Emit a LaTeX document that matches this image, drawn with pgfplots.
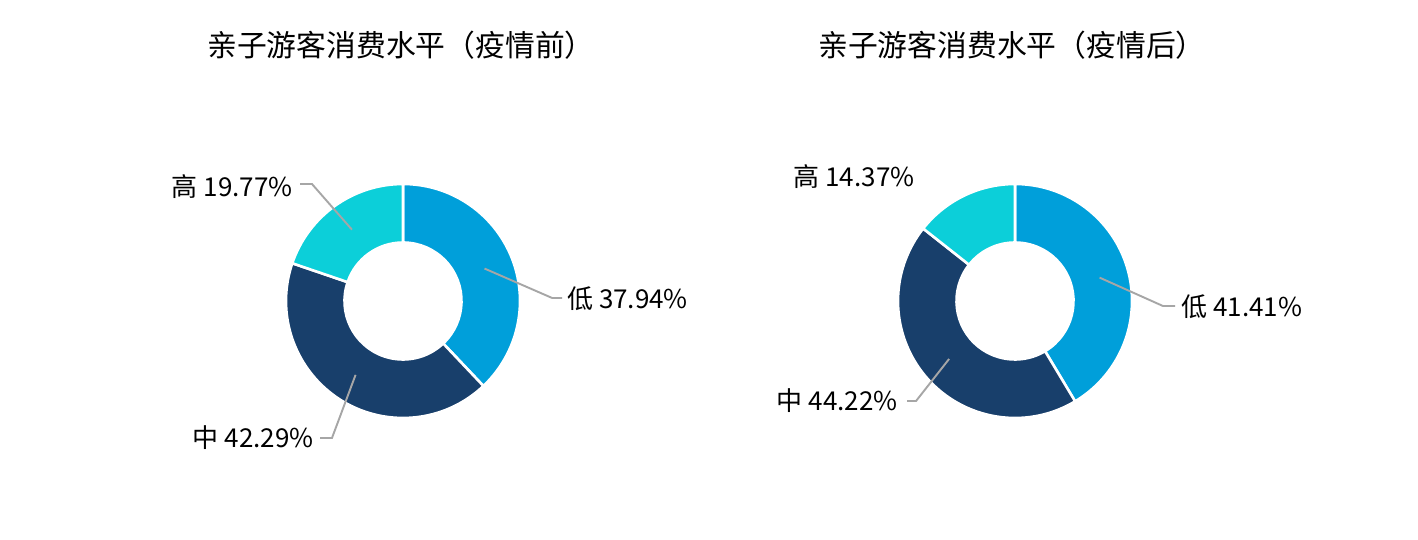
\documentclass[border=0pt]{standalone}
\usepackage{fontspec}
\setmainfont{Noto Sans CJK SC}
\usepackage{pgfplots}
\usepackage{pgfplotstable}
\pgfplotsset{compat=1.18}

\definecolor{cLow}{HTML}{009FDA}
\definecolor{cMid}{HTML}{183F6B}
\definecolor{cHigh}{HTML}{0CCFD9}
\definecolor{leadgray}{HTML}{A6A6A6}

% share of each level, before and after the epidemic
\pgfplotstableread{
level value
low  37.94
mid  42.29
high 19.77
}\before
\pgfplotstableread{
level value
low  41.41
mid  44.22
high 14.37
}\after

% one ring segment from angle #1 to angle #2 (clockwise), colour #3
\newcommand\ringslice[3]{%
  \fill[#3, draw=white, line width=1.3bp]
    (axis cs:{cos(#1)},{sin(#1)}) arc[start angle=#1, end angle=#2, radius=58.5bp]
    -- (axis cs:{0.5*cos(#2)},{0.5*sin(#2)})
    arc[start angle=#2, end angle=#1, radius=29.25bp] -- cycle;
}

\pgfplotsset{
  donut/.style={
    hide axis, clip=false,
    x=58.5bp, y=58.5bp,
    xmin=-1, xmax=1, ymin=-1, ymax=1,
    anchor=center,
  },
}
\tikzset{
  lbl/.style={font=\fontsize{13bp}{15bp}\selectfont, inner sep=0pt},
  leader/.style={leadgray, line width=0.95bp},
}

\begin{document}
\begin{tikzpicture}
\path[use as bounding box, fill=white] (0,0) rectangle (709bp,270bp);

% angles from the table values, starting at 12 o'clock, clockwise
\pgfplotstablegetelem{0}{value}\of\before \let\bLow\pgfplotsretval
\pgfplotstablegetelem{1}{value}\of\before \let\bMid\pgfplotsretval
\pgfplotstablegetelem{0}{value}\of\after  \let\aLow\pgfplotsretval
\pgfplotstablegetelem{1}{value}\of\after  \let\aMid\pgfplotsretval
\pgfmathsetmacro\bA{90}
\pgfmathsetmacro\bB{90-3.6*\bLow}
\pgfmathsetmacro\bC{\bB-3.6*\bMid}
\pgfmathsetmacro\aA{90}
\pgfmathsetmacro\aB{90-3.6*\aLow}
\pgfmathsetmacro\aC{\aB-3.6*\aMid}

\node[font=\fontsize{14.9bp}{17bp}\selectfont] at (200.5bp,247.5bp) {亲子游客消费水平（疫情前）};
\node[font=\fontsize{14.9bp}{17bp}\selectfont] at (506bp,247.5bp) {亲子游客消费水平（疫情后）};

\begin{axis}[donut, at={(201.5bp,119.5bp)}]
  \ringslice{\bA}{\bB}{cLow}
  \ringslice{\bB}{\bC}{cMid}
  \ringslice{\bC}{-270}{cHigh}
  \draw[leader] (axis cs:{0.75*cos((\bA+\bB)/2)},{0.75*sin((\bA+\bB)/2)}) -- (axis cs:1.274,0.026) -- (axis cs:1.359,0.026);
  \draw[leader] (axis cs:{0.75*cos((\bB+\bC)/2)},{0.75*sin((\bB+\bC)/2)}) -- (axis cs:-0.607,-1.171) -- (axis cs:-0.709,-1.171);
  \draw[leader] (axis cs:{0.75*cos((\bC-270)/2)},{0.75*sin((\bC-270)/2)}) -- (axis cs:-0.778,1.0) -- (axis cs:-0.880,1.0);
  \node[lbl, anchor=west] at (axis cs:1.40,0.02) {低 37.94\%};
  \node[lbl, anchor=east] at (axis cs:-0.76,-1.17) {中 42.29\%};
  \node[lbl, anchor=east] at (axis cs:-0.94,0.98) {高 19.77\%};
\end{axis}

\begin{axis}[donut, at={(507.5bp,119.5bp)}]
  \ringslice{\aA}{\aB}{cLow}
  \ringslice{\aB}{\aC}{cMid}
  \ringslice{\aC}{-270}{cHigh}
  \draw[leader] (axis cs:{0.75*cos((\aA+\aB)/2)},{0.75*sin((\aA+\aB)/2)}) -- (axis cs:1.265,-0.043) -- (axis cs:1.368,-0.043);
  \draw[leader] (axis cs:{0.75*cos((\aB+\aC)/2)},{0.75*sin((\aB+\aC)/2)}) -- (axis cs:-0.846,-0.855) -- (axis cs:-0.923,-0.855);
  \node[lbl, anchor=west] at (axis cs:1.42,-0.05) {低 41.41\%};
  \node[lbl, anchor=east] at (axis cs:-1.00,-0.855) {中 44.22\%};
  \node[lbl] at (axis cs:-1.376,1.06) {高 14.37\%};
\end{axis}
\end{tikzpicture}
\end{document}
